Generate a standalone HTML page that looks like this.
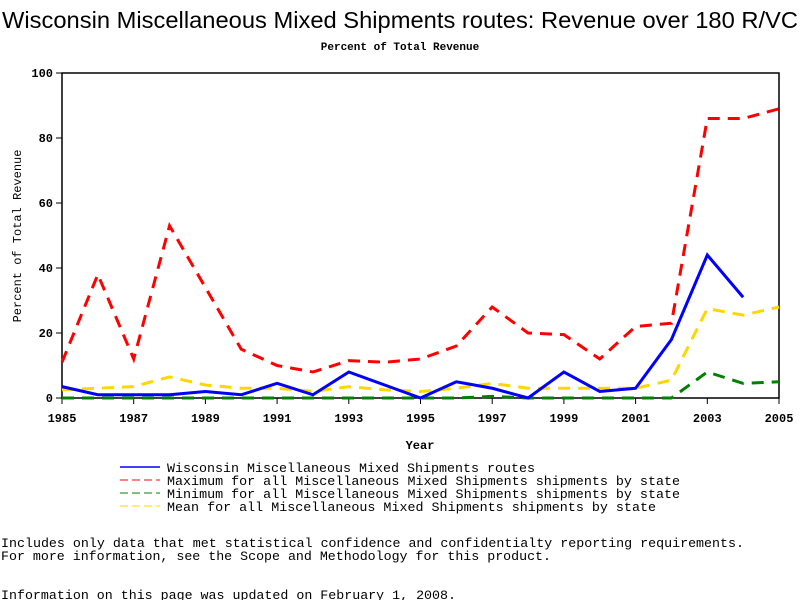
<!DOCTYPE html>
<html><head><meta charset="utf-8"><style>
body{margin:0;background:#fff;width:800px;height:600px;overflow:hidden;font-family:"Liberation Mono",monospace}
text{font-family:"Liberation Mono",monospace}
</style></head><body>
<svg id="c" width="800" height="600">
<text x="2" y="28" font-size="23" textLength="796" lengthAdjust="spacingAndGlyphs" style="font-family:'Liberation Sans',sans-serif">Wisconsin Miscellaneous Mixed Shipments routes: Revenue over 180 R/VC</text>
<text x="400" y="50" text-anchor="middle" font-size="11" font-weight="bold">Percent of Total Revenue</text>
<g id="axes"></g><g id="series"></g>
<text x="420" y="449" text-anchor="middle" font-size="12" font-weight="bold">Year</text>
<text transform="translate(21,236) rotate(-90)" text-anchor="middle" font-size="12">Percent of Total Revenue</text>
<g font-size="13">
<line x1="120" y1="467" x2="160" y2="467" stroke="#00f" stroke-width="1.5"/><text x="167" y="472" textLength="368" lengthAdjust="spacingAndGlyphs">Wisconsin Miscellaneous Mixed Shipments routes</text>
<line x1="120" y1="480" x2="160" y2="480" stroke="#f00" stroke-dasharray="8,4"/><text x="167" y="485" textLength="513" lengthAdjust="spacingAndGlyphs">Maximum for all Miscellaneous Mixed Shipments shipments by state</text>
<line x1="120" y1="493" x2="160" y2="493" stroke="#008000" stroke-dasharray="8,4"/><text x="167" y="498" textLength="513" lengthAdjust="spacingAndGlyphs">Minimum for all Miscellaneous Mixed Shipments shipments by state</text>
<line x1="120" y1="506" x2="160" y2="506" stroke="#ffd700" stroke-dasharray="8,4"/><text x="167" y="511" textLength="489" lengthAdjust="spacingAndGlyphs">Mean for all Miscellaneous Mixed Shipments shipments by state</text>
</g>
<g font-size="13">
<text x="1" y="547" textLength="743" lengthAdjust="spacingAndGlyphs">Includes only data that met statistical confidence and confidentialty reporting requirements.</text>
<text x="1" y="560" textLength="550" lengthAdjust="spacingAndGlyphs">For more information, see the Scope and Methodology for this product.</text>
<text x="1" y="599" textLength="455" lengthAdjust="spacingAndGlyphs">Information on this page was updated on February 1, 2008.</text>
</g>
</svg>
<script>
const years=[1985,1986,1987,1988,1989,1990,1991,1992,1993,1994,1995,1996,1997,1998,1999,2000,2001,2002,2003,2004,2005];
const wisconsin=[3.5,1,1,1,2,1,4.5,1,8,4,0,5,3,0,8,2,3,18,44,31,null];
const maximum=[11,38,12,53,34,15,10,8,11.5,11,12,16,28,20,19.5,12,22,23,86,86,89];
const minimum=[0,0,0,0,0,0,0,0,0,0,0,0,0.5,0,0,0,0,0,8,4.5,5];
const mean=[2.5,3,3.5,6.5,4,3,3,2,3.5,2.5,2,3,4.5,3,3,3,3,5.5,27.5,25.5,28];
const xTicks=[1985,1987,1989,1991,1993,1995,1997,1999,2001,2003,2005];
const yTicks=[0,20,40,60,80,100];
const NS="http://www.w3.org/2000/svg";
const X=y=>62+(y-1985)*(779-62)/20, Y=v=>398-v*3.25;
function mk(t,a,p){const e=document.createElementNS(NS,t);for(const k in a)e.setAttribute(k,a[k]);p.appendChild(e);return e;}
const ax=document.getElementById('axes');
let e=mk('rect',{x:62,y:73,width:717,height:325,fill:'none',stroke:'#000','stroke-width':1.5},ax);


xTicks.forEach(t=>{mk('line',{x1:X(t),x2:X(t),y1:398,y2:404,stroke:'#000'},ax);
const l=mk('text',{x:X(t),y:422,'text-anchor':'middle','font-size':12,'font-weight':'bold'},ax);l.textContent=t;

});
yTicks.forEach(t=>{mk('line',{x1:56,x2:62,y1:Y(t),y2:Y(t),stroke:'#000'},ax);
const l=mk('text',{x:53,y:Y(t)+4,'text-anchor':'end','font-size':12,'font-weight':'bold'},ax);l.textContent=t;

});
const sg=document.getElementById('series');
function line(d,c,dash,name){let pts=[];d.forEach((v,i)=>{if(v!==null)pts.push(X(years[i])+','+Y(v));});
const p=mk('polyline',{points:pts.join(' '),fill:'none',stroke:c,'stroke-width':3,'stroke-dasharray':dash},sg);

}
line(minimum,'#008000','12,8','series-minimum');
line(mean,'#ffd700','12,8','series-mean');
line(maximum,'#f00','12,8','series-maximum');
line(wisconsin,'#00f','none','series-wisconsin');
</script>
</body></html>
